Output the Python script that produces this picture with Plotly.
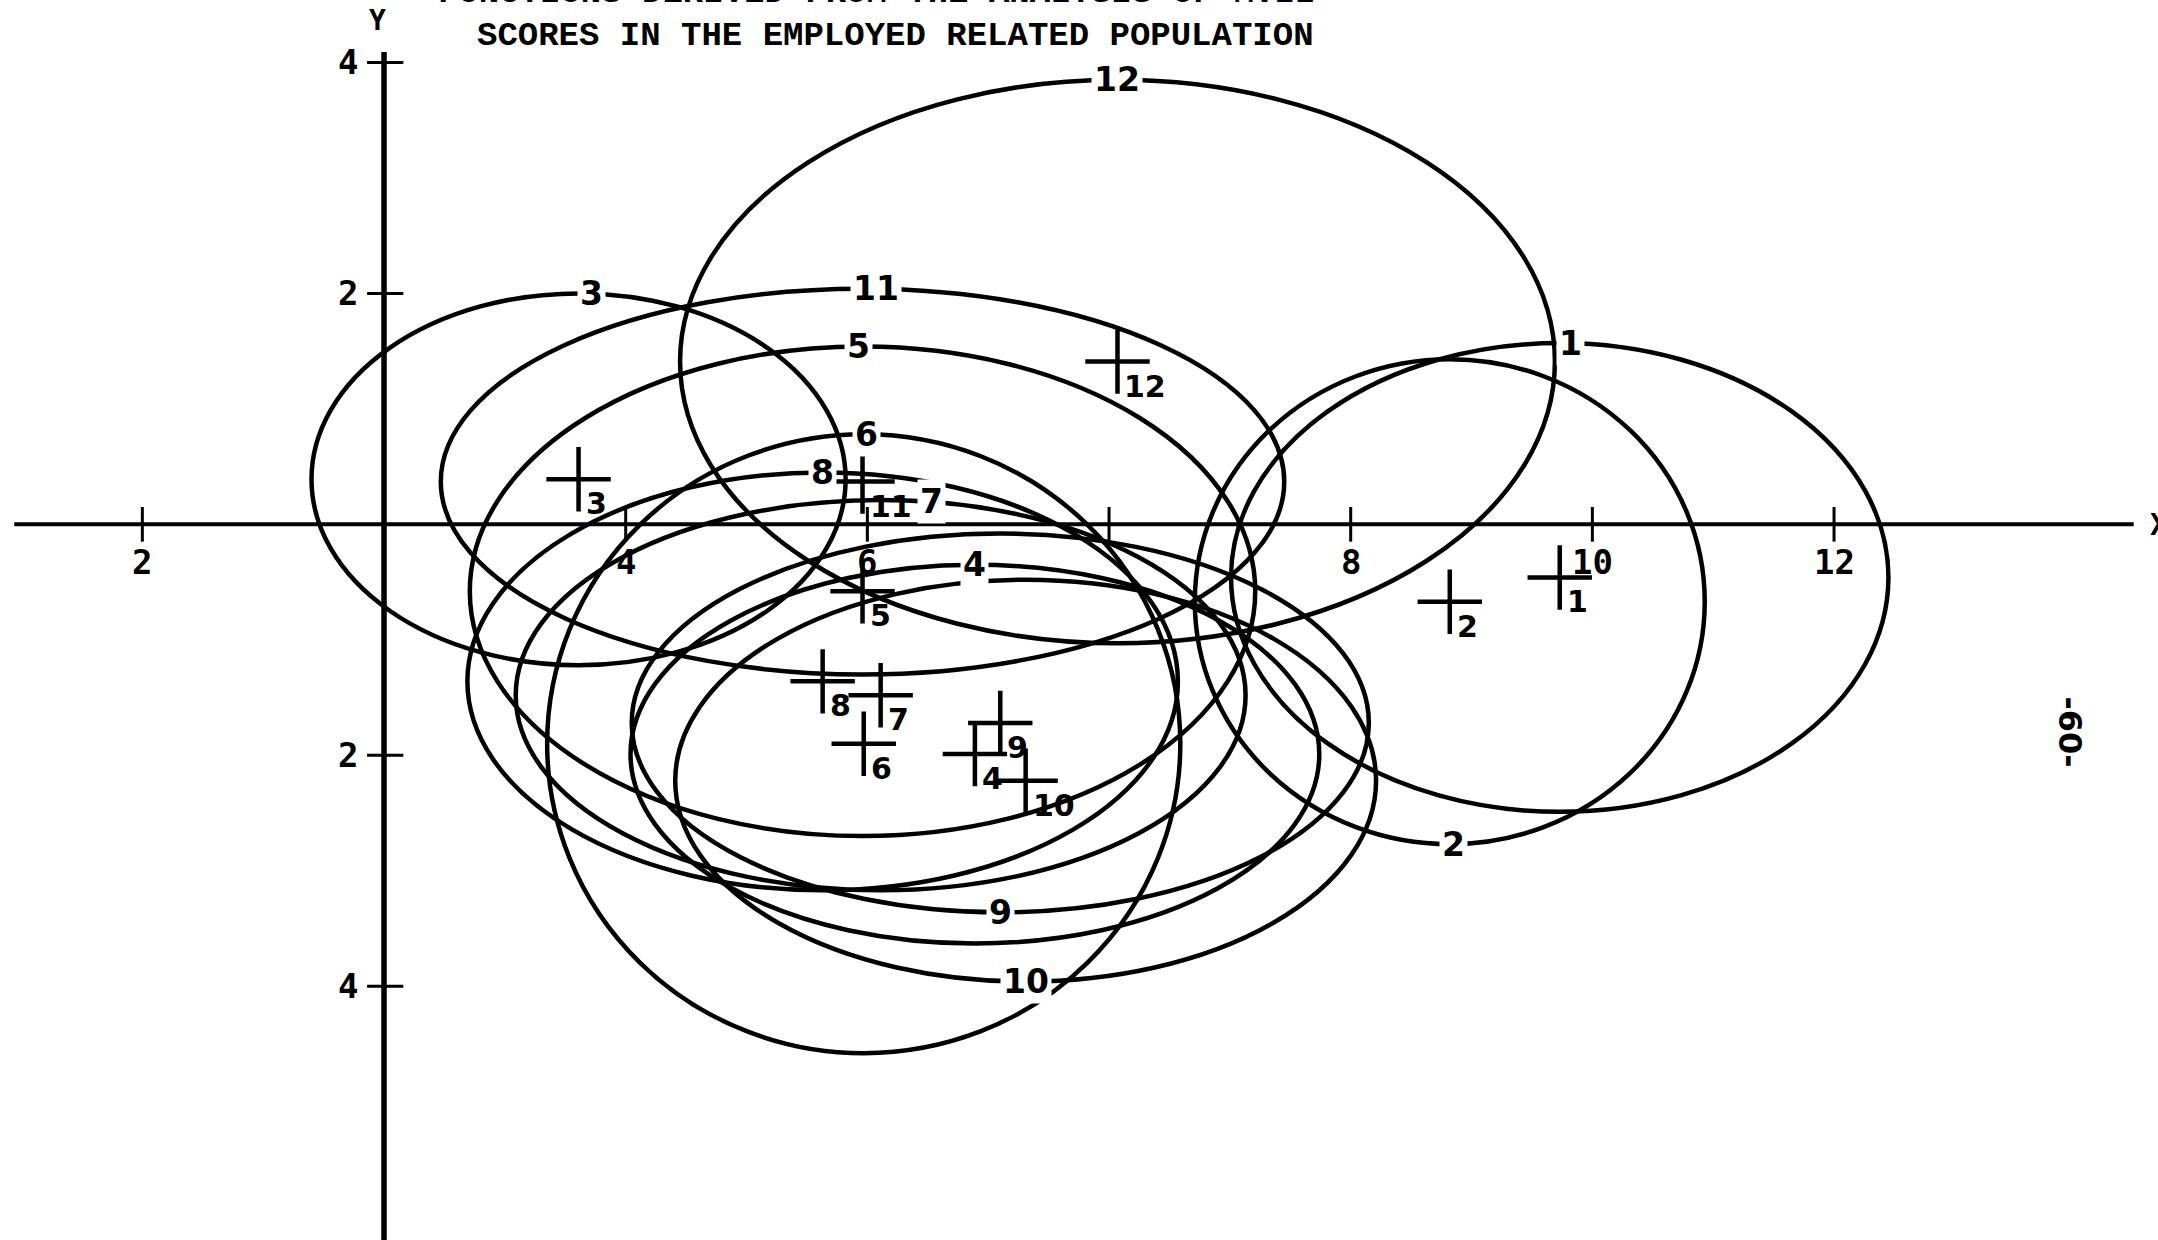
import plotly.graph_objects as go

# Group centroids (discriminant function space) and their ellipse half-widths
groups = ["1", "2", "3", "4", "5", "6", "7", "8", "9", "10", "11", "12"]
centre_x = [9.73, 8.82, 1.61, 4.89, 3.96, 3.97, 4.11, 3.63, 5.10, 5.31, 3.96, 6.07]
centre_y = [-0.46, -0.67, 0.39, -1.99, -0.58, -1.90, -1.48, -1.36, -1.72, -2.22, 0.37, 1.41]
half_x = [2.72, 2.11, 2.21, 2.85, 3.25, 2.62, 3.02, 2.94, 3.05, 2.90, 3.49, 3.62]
half_y = [2.03, 2.10, 1.61, 1.64, 2.12, 2.68, 1.69, 1.81, 1.64, 1.74, 1.67, 2.44]
# where each ellipse carries its number: edge and x position along the outline
label_side = ["top", "bottom", "top", "top", "top", "top", "top", "top",
              "bottom", "bottom", "top", "top"]
label_x = [9.82, 8.85, 1.72, 4.89, 3.93, 3.99, 4.53, 3.63, 5.10, 5.31, 4.07, 6.07]

x_ticks = [-2, 2, 4, 6, 8, 10, 12]
x_tick_text = ["2", "4", "6", "", "8", "10", "12"]
y_ticks = [4, 2, -2, -4]
y_tick_text = ["4", "2", "2", "4"]

title_lines = ["FUNCTIONS DERIVED FROM THE ANALYSIS OF MVII",
               "SCORES IN THE EMPLOYED RELATED POPULATION"]

X_RANGE = [-3.178, 14.681]
Y_RANGE = [-6.198, 4.541]
INK = "#000000"
HAND = "DejaVu Sans"
TYPE = "Liberation Mono"
TICKFONT = "DejaVu Sans Mono"

fig = go.Figure()

# axes
fig.add_trace(go.Scatter(x=[-3.06, 14.48], y=[0, 0], mode="lines",
                         line=dict(color=INK, width=4), hoverinfo="skip"))
fig.add_trace(go.Scatter(x=[0, 0], y=[4.09, Y_RANGE[0]], mode="lines",
                         line=dict(color=INK, width=5.5), hoverinfo="skip"))

shapes = []
for t in x_ticks:
    shapes.append(dict(type="line", xref="x", yref="y", x0=t, x1=t, y0=0.15, y1=-0.15,
                       line=dict(color=INK, width=3)))
for t in y_ticks:
    shapes.append(dict(type="line", xref="x", yref="y", x0=-0.14, x1=0.16, y0=t, y1=t,
                       line=dict(color=INK, width=3)))

# ellipses
for cx, cy, a, b in zip(centre_x, centre_y, half_x, half_y):
    shapes.append(dict(type="circle", xref="x", yref="y",
                       x0=cx - a, x1=cx + a, y0=cy - b, y1=cy + b,
                       line=dict(color=INK, width=4.5), fillcolor="rgba(0,0,0,0)"))

# centroid crosses
fig.add_trace(go.Scatter(x=centre_x, y=centre_y, mode="markers",
                         marker=dict(symbol="cross-thin", size=46,
                                     line=dict(color=INK, width=4.5)),
                         hoverinfo="skip"))

annotations = []
for t, txt in zip(x_ticks, x_tick_text):
    if txt:
        annotations.append(dict(x=t, y=-0.33, xref="x", yref="y", text="<b>%s</b>" % txt,
                                showarrow=False,
                                font=dict(family=TICKFONT, size=34, color=INK)))
for t, txt in zip(y_ticks, y_tick_text):
    annotations.append(dict(x=-0.2, y=t, xref="x", yref="y", text="<b>%s</b>" % txt,
                            showarrow=False, xanchor="right",
                            font=dict(family=TICKFONT, size=34, color=INK)))

# ellipse numbers sitting on the outline
for g, cx, cy, a, b, side, lx in zip(groups, centre_x, centre_y, half_x, half_y,
                                     label_side, label_x):
    rel = (lx - cx) / a
    dy = b * max(0.0, 1 - rel * rel) ** 0.5
    yy = cy + dy if side == "top" else cy - dy
    annotations.append(dict(x=lx, y=yy, xref="x", yref="y", text=g, showarrow=False,
                            bgcolor="white", borderpad=2,
                            font=dict(family=HAND, size=33, color=INK, weight="bold")))

# centroid numbers
for g, cx, cy in zip(groups, centre_x, centre_y):
    annotations.append(dict(x=cx, y=cy, xref="x", yref="y", text=g, showarrow=False,
                            xanchor="left", yanchor="top", xshift=5, yshift=-5,
                            font=dict(family=HAND, size=30, color=INK, weight="bold")))

# title, axis letters, page number
annotations.append(dict(x=0.406, y=1.006, xref="paper", yref="paper", text=title_lines[0],
                        showarrow=False, yanchor="middle",
                        font=dict(family=TYPE, size=34, color=INK, weight="bold")))
annotations.append(dict(x=0.415, y=0.971, xref="paper", yref="paper", text=title_lines[1],
                        showarrow=False, yanchor="middle",
                        font=dict(family=TYPE, size=34, color=INK, weight="bold")))
annotations.append(dict(x=-0.05, y=4.36, xref="x", yref="y", text="<b>Y</b>", showarrow=False,
                        font=dict(family=TICKFONT, size=28, color=INK)))
annotations.append(dict(x=14.6, y=0.0, xref="x", yref="y", text="<b>X</b>", showarrow=False,
                        xanchor="left", font=dict(family=TICKFONT, size=30, color=INK)))
annotations.append(dict(x=13.95, y=-1.8, xref="x", yref="y", text="-60-", showarrow=False,
                        textangle=90, font=dict(family=HAND, size=32, color=INK,
                                                weight="bold")))

fig.update_layout(
    width=2158, height=1240,
    margin=dict(l=0, r=0, t=0, b=0),
    paper_bgcolor="white", plot_bgcolor="white",
    showlegend=False,
    xaxis=dict(range=X_RANGE, visible=False, fixedrange=True),
    yaxis=dict(range=Y_RANGE, visible=False, fixedrange=True),
    shapes=shapes,
    annotations=annotations,
)

fig.write_html("out.html")
